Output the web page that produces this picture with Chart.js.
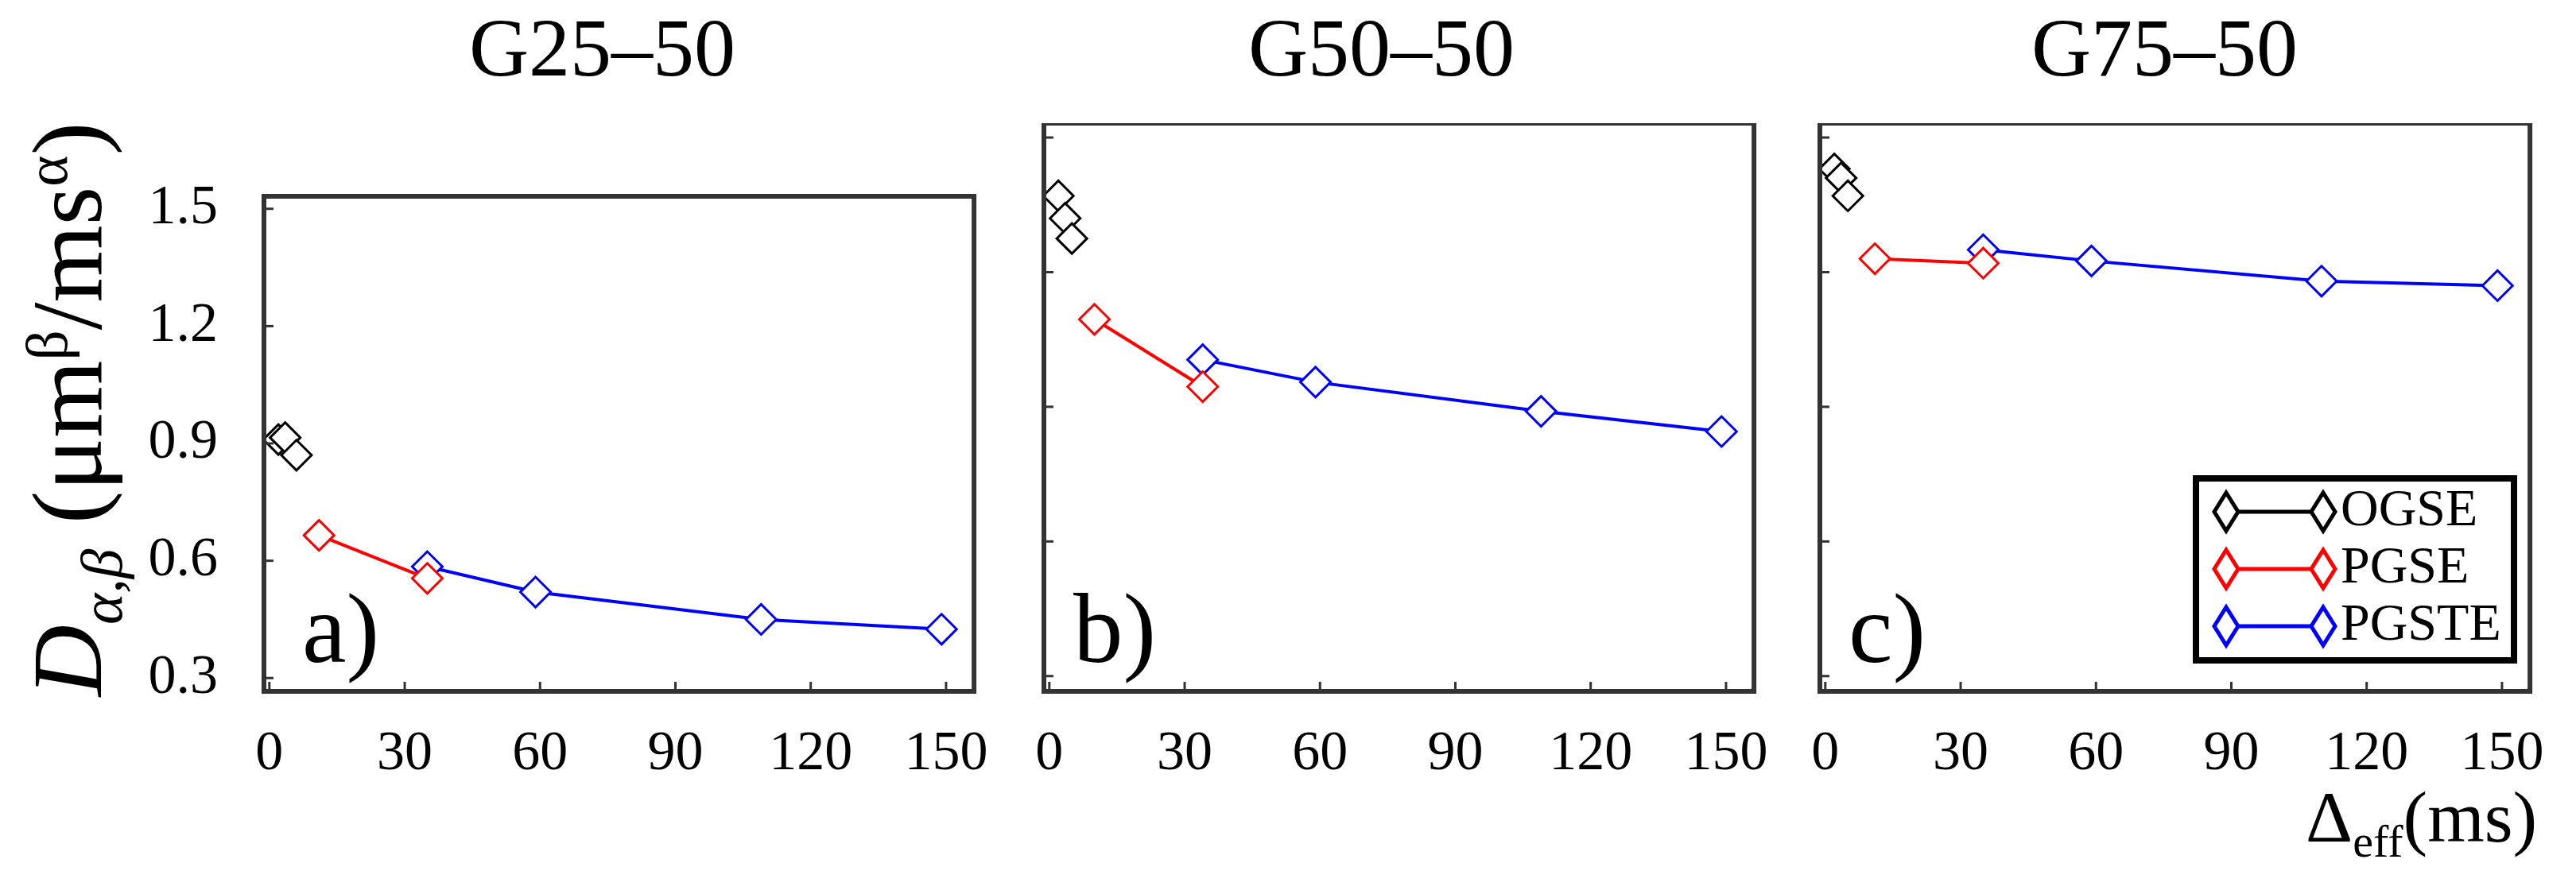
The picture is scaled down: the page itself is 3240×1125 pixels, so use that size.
<!DOCTYPE html>
<html><head><meta charset="utf-8">
<script src="https://cdn.jsdelivr.net/npm/chart.js@4"></script>
<style>
body{margin:0;width:3240px;height:1125px;background:#fff;position:relative;overflow:hidden;font-family:"Liberation Serif",serif}
canvas{position:absolute}
.t{position:absolute;font-family:"Liberation Serif",serif;color:#000;white-space:nowrap}
</style></head><body>
<div class="t" style="left:590px;top:0px;font-size:104px">G25–50</div>
<div class="t" style="left:1570px;top:0px;font-size:104px">G50–50</div>
<div class="t" style="left:2555px;top:0px;font-size:104px">G75–50</div>
<div class="t" style="left:380px;top:720px;font-size:125px">a)</div>
<div class="t" style="left:1350px;top:720px;font-size:125px">b)</div>
<div class="t" style="left:2325px;top:720px;font-size:125px">c)</div>
<div class="t" style="left:92px;top:515px;font-size:125px;transform:translate(-50%,-50%) rotate(-90deg)"><i>D</i><sub style="font-size:75px"><i>α,β</i></sub> (μm<sup style="font-size:75px">β</sup>/ms<sup style="font-size:75px">α</sup>)</div>
<div class="t" style="left:2900px;top:975px;font-size:92px">Δ<sub style="font-size:58px">eff</sub>(ms)</div>
<canvas id="c0"></canvas><canvas id="c1"></canvas><canvas id="c2"></canvas>
<script>
// données
var ogseX = [[2, 3.5, 6], [2, 3.5, 5], [2, 3.5, 5]];
var ogseY = [[0.91, 0.915, 0.87], [1.37, 1.32, 1.275], [1.43, 1.41, 1.37]];
var pgseX = [[11, 35], [10, 34], [11, 35]];
var pgseY = [[0.665, 0.555], [1.095, 0.945], [1.23, 1.22]];
var pgsteX = [[35, 59, 109, 149], [34, 59, 109, 149], [35, 59, 110, 149]];
var pgsteY = [[0.585, 0.52, 0.45, 0.425], [1.005, 0.955, 0.89, 0.845], [1.25, 1.225, 1.18, 1.17]];
var xTicks = [0, 30, 60, 90, 120, 150];
var yTicks = [0.3, 0.6, 0.9, 1.2, 1.5];
var seriesNames = ['OGSE', 'PGSE', 'PGSTE'];
var seriesColors = ['#000000', '#ff0000', '#0000ff'];

var plotLeft = [332, 1313, 2289];
var plotTop = 155, plotW = 902, plotH = 715;
var axW = 200, axH = 110;

function pts(xs, ys) { return xs.map((x, i) => ({x: x, y: ys[i]})); }

// cadre + graduations vers l'intérieur
var boxPlugin = {
  id: 'box',
  afterDraw(chart) {
    var c = chart.ctx, a = chart.chartArea, sx = chart.scales.x, sy = chart.scales.y;
    c.save();
    c.strokeStyle = '#333'; c.lineWidth = 3;
    xTicks.forEach(v => { var p = sx.getPixelForValue(v);
      c.beginPath(); c.moveTo(p, a.bottom); c.lineTo(p, a.bottom - 12); c.stroke(); });
    yTicks.forEach(v => { var p = sy.getPixelForValue(v);
      c.beginPath(); c.moveTo(a.left, p); c.lineTo(a.left + 12, p); c.stroke(); });
    c.lineWidth = 6;
    c.strokeRect(a.left, a.top, a.right - a.left, a.bottom - a.top);
    if (chart.options.plugins.box.legend) {
      var lx = 2762 - plotLeft[2] + axW, ly = 602 - plotTop;
      c.fillStyle = '#fff';
      c.fillRect(lx, ly, 400, 229);
      c.strokeStyle = '#000'; c.lineWidth = 8;
      c.strokeRect(lx, ly, 400, 229);
      c.font = '66px "Liberation Serif"'; c.textBaseline = 'middle';
      seriesNames.forEach((n, i) => {
        var yy = ly + 42 + i * 72;
        c.strokeStyle = seriesColors[i]; c.lineWidth = 5;
        c.beginPath(); c.moveTo(lx + 38, yy); c.lineTo(lx + 160, yy); c.stroke();
        [lx + 38, lx + 160].forEach(px => {
          c.beginPath(); c.moveTo(px, yy - 24); c.lineTo(px + 15, yy); c.lineTo(px, yy + 24); c.lineTo(px - 15, yy); c.closePath();
          c.fillStyle = '#fff'; c.fill(); c.stroke();
        });
        c.fillStyle = '#000'; c.fillText(n, lx + 182, yy);
      });
    }
    c.restore();
  }
};

for (let k = 0; k < 3; k++) {
  var cv = document.getElementById('c' + k);
  cv.style.left = (plotLeft[k] - axW) + 'px';
  cv.style.top = plotTop + 'px';
  cv.width = plotW + axW + 40; cv.height = plotH + axH;
  cv.style.width = cv.width + 'px'; cv.style.height = cv.height + 'px';
  var sets = [[ogseX[k], ogseY[k]], [pgseX[k], pgseY[k]], [pgsteX[k], pgsteY[k]]].map((s, i) => ({
    label: seriesNames[i], data: pts(s[0], s[1]),
    borderColor: seriesColors[i], backgroundColor: '#fff',
    borderWidth: 4, pointStyle: 'rectRot', pointRadius: 19, pointBorderWidth: 3, clip: false
  }));
  new Chart(cv, {
    type: 'line',
    data: {datasets: sets},
    options: {
      responsive: false, animation: false,
      layout: {autoPadding: false, padding: {top: 0, right: 40, bottom: 0, left: 0}},
      plugins: {legend: {display: false}, tooltip: {enabled: false}, box: {legend: k == 2}},
      scales: {
        x: {type: 'linear', min: -1.2, max: 156.2,
          afterFit(s) { s.height = axH; },
          afterBuildTicks(s) { s.ticks = xTicks.map(v => ({value: v})); },
          grid: {display: false}, border: {display: false},
          ticks: {color: '#000', font: {family: 'Liberation Serif', size: 70}, padding: 30, maxRotation: 0}},
        y: {min: 0.266, max: 1.532,
          afterFit(s) { s.width = axW; },
          afterBuildTicks(s) { s.ticks = yTicks.map(v => ({value: v})); },
          grid: {display: false}, border: {display: false},
          ticks: {display: k == 0, color: '#000', font: {family: 'Liberation Serif', size: 70}, padding: 50,
            callback: v => v.toFixed(1)}}
      }
    },
    plugins: [boxPlugin]
  });
}
</script></body></html>
